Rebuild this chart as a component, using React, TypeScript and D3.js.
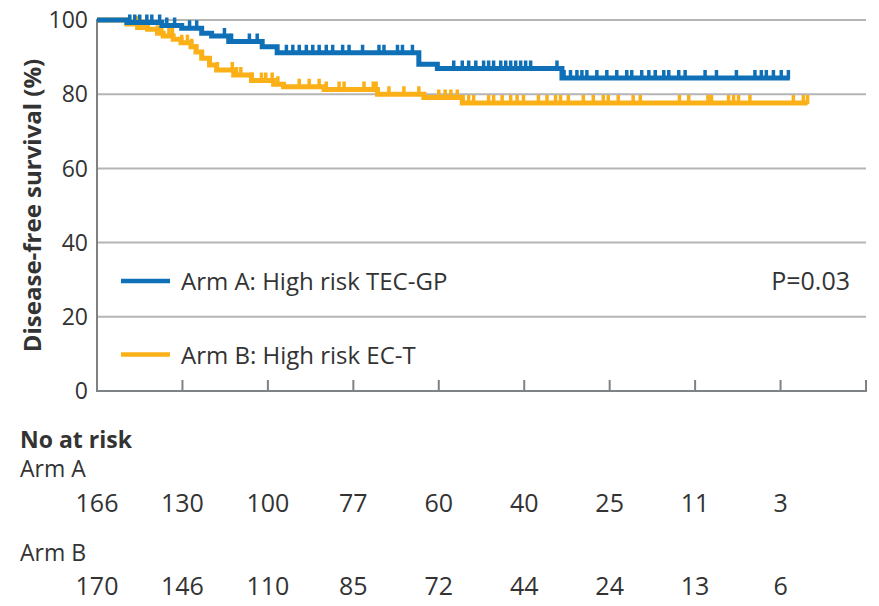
import React from "react";
import * as d3 from "d3";

// ---- data ----
const xTicks = [0, 12, 24, 36, 48, 60, 72, 84, 96, 108];
const yTicks = [0, 20, 40, 60, 80, 100];

const armATimes = [0, 4.2, 9.1, 11.9, 14.7, 16.1, 18.5, 23.2, 25.3, 45.2, 47.8, 65.3, 97.3];
const armASurv = [100, 99.3, 98.5, 97.8, 96.4, 95.7, 94.2, 92.8, 91.2, 88.1, 86.9, 84.4, 84.4];
const armACensor = [4.6, 5.3, 6.0, 7.0, 7.7, 8.8, 9.8, 10.9, 13.0, 14.0, 17.9, 18.9, 21.4, 22.5, 26.6, 27.5, 28.4, 29.4, 30.3, 31.2, 32.2, 33.1, 34.5, 35.4, 37.3, 39.6, 40.3, 42.2, 42.9, 44.3, 50.1, 51.3, 52.2, 53.2, 54.3, 55.0, 55.7, 56.7, 57.4, 58.1, 58.8, 59.5, 60.2, 60.9, 64.6, 65.6, 66.5, 67.4, 68.1, 68.8, 70.2, 71.6, 73.0, 74.4, 75.1, 76.5, 77.5, 78.4, 79.6, 80.3, 81.7, 82.6, 85.4, 87.0, 89.8, 92.4, 93.3, 94.0, 95.0, 96.1, 97.1];

const armBTimes = [0, 4.2, 5.7, 7.1, 8.5, 9.3, 10.7, 11.8, 13.2, 13.9, 14.7, 15.8, 16.8, 19.2, 21.7, 24.8, 26.2, 31.9, 39.4, 45.9, 51.3, 99.8];
const armBSurv = [100, 98.9, 98.0, 97.5, 96.4, 95.7, 94.8, 93.9, 92.8, 91.4, 89.7, 87.9, 86.5, 85.2, 83.7, 82.7, 82.0, 81.3, 80.0, 79.1, 77.6, 77.6];
const armBCensor = [4.6, 5.6, 6.4, 7.0, 8.5, 9.1, 10.1, 10.6, 11.9, 12.7, 13.3, 14.0, 14.8, 16.9, 19.0, 19.6, 20.2, 21.7, 23.1, 23.7, 24.6, 25.4, 28.4, 29.8, 31.2, 32.2, 34.0, 34.7, 37.5, 38.8, 39.2, 41.0, 43.1, 45.2, 48.0, 48.9, 49.7, 50.6, 51.4, 52.2, 52.9, 55.0, 55.7, 56.9, 58.1, 59.0, 59.9, 62.0, 63.2, 64.4, 65.1, 66.2, 68.3, 69.7, 71.1, 71.8, 73.2, 75.3, 76.3, 81.8, 83.1, 85.8, 86.3, 88.7, 89.4, 90.1, 91.7, 97.8, 99.2, 99.8];

const riskA = [166, 130, 100, 77, 60, 40, 25, 11, 3];
const riskB = [170, 146, 110, 85, 72, 44, 24, 13, 6];

const armALabel = "Arm A: High risk TEC-GP";
const armBLabel = "Arm B: High risk EC-T";
const pLabel = "P=0.03";
const yLabel = "Disease-free survival (%)";

// ---- style ----
const BLUE = "#0f70b7";
const ORANGE = "#fbb017";
const GRID = "#b5b5b5";
const AXIS = "#7f8285";
const TEXT = "#333333";
const FONT = "'Open Sans', 'Noto Sans', sans-serif";

export default function App() {
  const W = 879, H = 606;
  const x = d3.scaleLinear().domain([0, 108]).range([97, 866]);
  const y = d3.scaleLinear().domain([0, 100]).range([391, 20]);

  const line = d3
    .line<[number, number]>()
    .x((d) => x(d[0]))
    .y((d) => y(d[1]))
    .curve(d3.curveStepAfter);

  const makeArm = (times: number[], surv: number[], censor: number[]) => {
    const pts: [number, number][] = times.map((t, i) => [t, surv[i]]);
    const bis = d3.bisector((t: number) => t).right;
    const marks = censor.map((t) => {
      const idx = Math.max(0, bis(times, t) - 1);
      return [t, surv[idx]] as [number, number];
    });
    return { path: line(pts) || "", marks };
  };

  const armA = makeArm(armATimes, armASurv, armACensor);
  const armB = makeArm(armBTimes, armBSurv, armBCensor);

  const markPath = (marks: [number, number][]) =>
    marks.map(([t, s]) => `M${x(t)},${y(s) + 1}V${y(s) - 8}`).join("");

  return (
    <svg
      width={W}
      height={H}
      style={{ position: "absolute", left: 0, top: 0, background: "#fff" }}
      fontFamily={FONT}
    >
      {/* grid */}
      {yTicks.filter((v) => v > 0).map((v) => (
        <line key={"g" + v} x1={x(0)} x2={x(108)} y1={y(v)} y2={y(v)} stroke={GRID} strokeWidth={2} />
      ))}
      {/* axes */}
      <line x1={x(0)} x2={x(0)} y1={y(100) - 1} y2={y(0)} stroke={AXIS} strokeWidth={2} />
      <line x1={x(0) - 1} x2={x(108) + 1} y1={y(0)} y2={y(0)} stroke={AXIS} strokeWidth={2} />
      {xTicks.slice(1).map((t) => (
        <line key={"xt" + t} x1={x(t)} x2={x(t)} y1={y(0)} y2={y(0) - 11} stroke={AXIS} strokeWidth={2} />
      ))}
      {/* y tick labels */}
      {yTicks.map((v) => (
        <text key={"yl" + v} x={88} y={y(v)} dy="0.36em" textAnchor="end" fontSize={23} fill={TEXT}>
          {v}
        </text>
      ))}
      {/* y axis label */}
      <text
        transform={`translate(41,${(y(0) + y(100)) / 2}) rotate(-90)`}
        textAnchor="middle"
        fontSize={24}
        fontWeight={700}
        fill={TEXT}
      >
        {yLabel}
      </text>

      {/* curves */}
      <path d={armB.path} fill="none" stroke={ORANGE} strokeWidth={5} />
      <path d={markPath(armB.marks)} fill="none" stroke={ORANGE} strokeWidth={3.5} />
      <path d={armA.path} fill="none" stroke={BLUE} strokeWidth={5} />
      <path d={markPath(armA.marks)} fill="none" stroke={BLUE} strokeWidth={3.5} />

      {/* legend */}
      <line x1={121} x2={170} y1={281} y2={281} stroke={BLUE} strokeWidth={4.5} />
      <text x={181} y={290} fontSize={24} fill={TEXT}>{armALabel}</text>
      <line x1={121} x2={170} y1={354.5} y2={354.5} stroke={ORANGE} strokeWidth={4.5} />
      <text x={181} y={364} fontSize={24} fill={TEXT}>{armBLabel}</text>
      <text x={850} y={289.5} textAnchor="end" fontSize={25} fill={TEXT}>{pLabel}</text>

      {/* number at risk */}
      <text x={20} y={448} fontSize={23} fontWeight={700} fill={TEXT}>No at risk</text>
      <text x={20} y={477} fontSize={23} fill={TEXT}>Arm A</text>
      {riskA.map((n, i) => (
        <text key={"ra" + i} x={x(xTicks[i])} y={512} textAnchor="middle" fontSize={25} fill={TEXT}>
          {n}
        </text>
      ))}
      <text x={20} y={561} fontSize={23} fill={TEXT}>Arm B</text>
      {riskB.map((n, i) => (
        <text key={"rb" + i} x={x(xTicks[i])} y={595} textAnchor="middle" fontSize={25} fill={TEXT}>
          {n}
        </text>
      ))}
    </svg>
  );
}
